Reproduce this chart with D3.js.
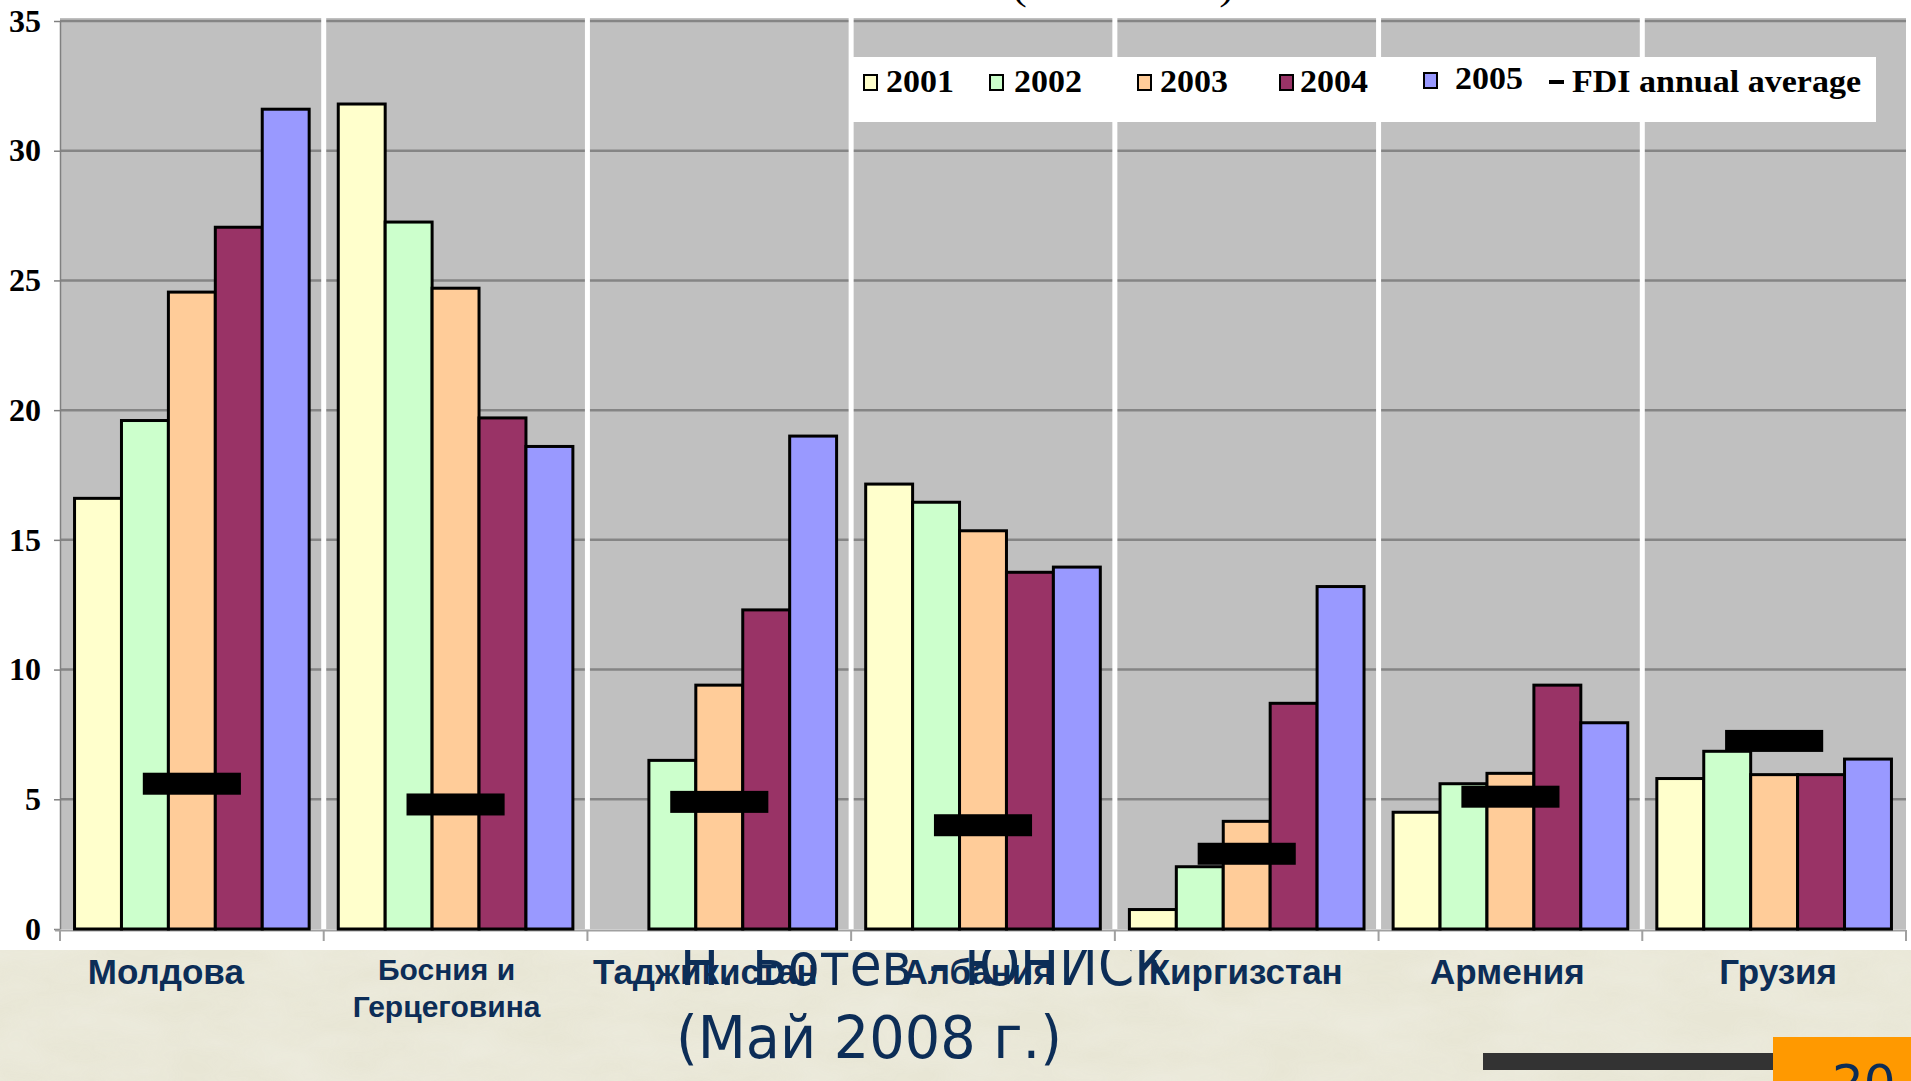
<!DOCTYPE html>
<html><head><meta charset="utf-8">
<script src="https://cdn.jsdelivr.net/npm/d3@7"></script>
<style>html,body{margin:0;padding:0;overflow:hidden;background:#ebe9d8}svg{display:block}</style>
</head><body>
<svg id="c" width="1911" height="1081"></svg>
<script>
// ---------- data ----------
const categories = ["Молдова", "Босния и Герцеговина", "Таджикистан", "Албания", "Киргизстан", "Армения", "Грузия"];
const categoryLabels = [["Молдова"], ["Босния и", "Герцеговина"], ["Таджикистан"], ["Албания"], ["Киргизстан"], ["Армения"], ["Грузия"]];
const years = ["2001", "2002", "2003", "2004", "2005"];
const v2001 = [16.6, 31.8, null, 17.15, 0.75, 4.5, 5.8];
const v2002 = [19.6, 27.25, 6.5, 16.45, 2.4, 5.6, 6.85];
const v2003 = [24.55, 24.7, 9.4, 15.35, 4.15, 6.0, 5.95];
const v2004 = [27.05, 19.7, 12.3, 13.75, 8.7, 9.4, 5.95];
const v2005 = [31.6, 18.6, 19.0, 13.95, 13.2, 7.95, 6.55];
const fdiAverage = [5.6, 4.8, 4.9, 4.0, 2.9, 5.1, 7.25];
const yTicks = [0, 5, 10, 15, 20, 25, 30, 35];
const fdiLabel = "FDI annual average";
const titleFragment = "(% от ВВП)";
const footerLines = ["Н. Ботев - ЮНИСК", "(Май 2008 г.)"];
const slideNumber = "20";

// ---------- styles / layout ----------
const yearColors = ["#FFFFCC", "#CCFFCC", "#FFCC99", "#993366", "#9999FF"];
const seriesValues = [v2001, v2002, v2003, v2004, v2005];
const navy = "#0c2d57";
const plotL = 60, plotR = 1906, plotB = 929, plotT = 21;
const labelShift = [-26, -9, -14, -5, -1, -3, 4];

const svg = d3.select("#c");

// subtle paper texture for the slide background
const defs = svg.append("defs");
const flt = defs.append("filter").attr("id", "paper").attr("x", 0).attr("y", 0).attr("width", "100%").attr("height", "100%");
flt.append("feTurbulence").attr("type", "fractalNoise").attr("baseFrequency", "0.012 0.03").attr("numOctaves", 3).attr("seed", 7).attr("result", "n");
flt.append("feColorMatrix").attr("in", "n").attr("type", "matrix")
  .attr("values", "0 0 0 0 0.96  0 0 0 0 0.96  0 0 0 0 0.93  0 0 0 0.45 -0.1");

// slide background
svg.append("rect").attr("width", 1911).attr("height", 1081).attr("fill", "#e8e6d5");
svg.append("rect").attr("width", 1911).attr("height", 1081).attr("filter", "url(#paper)").attr("opacity", 0.8);

// footer text (behind the chart picture)
const footerLayout = [{x: 680, y: 985, w: 491}, {x: 676, y: 1058, w: 386}];
svg.selectAll("text.footer").data(footerLines).join("text")
  .attr("class", "footer")
  .attr("x", (d, i) => footerLayout[i].x)
  .attr("y", (d, i) => footerLayout[i].y)
  .attr("textLength", (d, i) => footerLayout[i].w)
  .attr("lengthAdjust", "spacingAndGlyphs")
  .attr("font-family", "DejaVu Sans, sans-serif")
  .attr("font-size", 59)
  .attr("fill", navy)
  .text(d => d);

// bottom-right decoration
svg.append("rect").attr("x", 1483).attr("y", 1053).attr("width", 290).attr("height", 17).attr("fill", "#333333");
svg.append("rect").attr("x", 1773).attr("y", 1037).attr("width", 138).attr("height", 44).attr("fill", "#FF9900");
svg.append("text").attr("x", 1832).attr("y", 1100).attr("font-family", "DejaVu Sans, sans-serif")
  .attr("font-size", 50).attr("fill", navy).text(slideNumber);

// chart picture (white)
svg.append("rect").attr("x", 0).attr("y", 0).attr("width", 1911).attr("height", 950).attr("fill", "#ffffff");

// cut-off title fragment
svg.append("text").attr("x", 1012).attr("y", -1).attr("textLength", 222).attr("lengthAdjust", "spacingAndGlyphs")
  .attr("font-family", "Liberation Serif, serif").attr("font-size", 40).attr("fill", "#000").text(titleFragment);

// scales
const x0 = d3.scaleBand().domain(categories).range([plotL, plotR]).padding(0);
const x1 = d3.scaleBand().domain(years).range([0, x0.bandwidth()]).paddingInner(0).paddingOuter(0.31);
const y = d3.scaleLinear().domain([0, 35]).range([plotB, plotT]);

// plot area
svg.append("rect").attr("x", plotL).attr("y", plotT - 3).attr("width", plotR - plotL).attr("height", plotB - plotT + 3).attr("fill", "#C0C0C0");

// gridlines
svg.append("g").selectAll("line").data(yTicks.filter(t => t > 0)).join("line")
  .attr("x1", plotL).attr("x2", plotR).attr("y1", d => y(d)).attr("y2", d => y(d))
  .attr("stroke", "#858585").attr("stroke-width", 2.5);

// separators between countries
svg.append("g").selectAll("line").data(categories.slice(1)).join("line")
  .attr("x1", d => x0(d)).attr("x2", d => x0(d)).attr("y1", 13).attr("y2", plotB)
  .attr("stroke", "#ffffff").attr("stroke-width", 5);

// y axis
const yAxis = svg.append("g").attr("transform", `translate(${plotL},0)`)
  .call(d3.axisLeft(y).tickValues(yTicks).tickSizeInner(6).tickSizeOuter(0).tickPadding(13));
yAxis.select(".domain").attr("stroke", "#808080").attr("stroke-width", 1.5);
yAxis.selectAll(".tick line").attr("stroke", "#808080").attr("stroke-width", 1.5);
yAxis.selectAll(".tick text").attr("font-family", "Liberation Serif, serif").attr("font-weight", "bold")
  .attr("font-size", 32).attr("fill", "#000");

// x axis (boundaries)
const xAxisG = svg.append("g");
xAxisG.append("line").attr("x1", plotL - 5).attr("x2", plotR).attr("y1", plotB + 1.5).attr("y2", plotB + 1.5)
  .attr("stroke", "#a0a0a0").attr("stroke-width", 2);
xAxisG.selectAll("line.tk").data(categories.concat(["__end"])).join("line").attr("class", "tk")
  .attr("x1", d => d === "__end" ? plotR : x0(d)).attr("x2", d => d === "__end" ? plotR : x0(d))
  .attr("y1", plotB + 1).attr("y2", plotB + 12).attr("stroke", "#a0a0a0").attr("stroke-width", 2);

// bars
const barData = [];
categories.forEach((c, ci) => {
  years.forEach((yr, yi) => {
    const v = seriesValues[yi][ci];
    if (v !== null) barData.push({c, yr, yi, v});
  });
});
svg.append("g").selectAll("rect").data(barData).join("rect")
  .attr("x", d => x0(d.c) + x1(d.yr))
  .attr("width", x1.bandwidth())
  .attr("y", d => y(d.v))
  .attr("height", d => y(0) - y(d.v))
  .attr("fill", d => yearColors[d.yi])
  .attr("stroke", "#000").attr("stroke-width", 3);

// FDI annual average markers
const markW = x0.bandwidth() * 0.372, markH = 22;
svg.append("g").selectAll("rect").data(categories).join("rect")
  .attr("x", d => x0(d) + x0.bandwidth() / 2 - markW / 2)
  .attr("width", markW)
  .attr("y", (d, i) => y(fdiAverage[i]) - markH / 2)
  .attr("height", markH)
  .attr("fill", "#000");

// legend
const lg = svg.append("g");
lg.append("rect").attr("x", 849).attr("y", 57).attr("width", 1027).attr("height", 65).attr("fill", "#ffffff");
const legSq = [864, 990, 1138, 1280, 1424];
const legTx = [886, 1014, 1160, 1300, 1455];
lg.selectAll("rect.sw").data(years).join("rect").attr("class", "sw")
  .attr("x", (d, i) => legSq[i]).attr("y", (d, i) => i === 4 ? 73 : 75).attr("width", 13).attr("height", 15)
  .attr("fill", (d, i) => yearColors[i]).attr("stroke", "#000").attr("stroke-width", 2);
lg.selectAll("text.lt").data(years).join("text").attr("class", "lt")
  .attr("x", (d, i) => legTx[i]).attr("y", (d, i) => i === 4 ? 89 : 92)
  .attr("textLength", 68).attr("lengthAdjust", "spacingAndGlyphs")
  .attr("font-family", "Liberation Serif, serif").attr("font-weight", "bold").attr("font-size", 31)
  .attr("fill", "#000").text(d => d);
lg.append("rect").attr("x", 1549).attr("y", 80).attr("width", 15).attr("height", 4).attr("fill", "#000");
lg.append("text").attr("x", 1572).attr("y", 92).attr("textLength", 289).attr("lengthAdjust", "spacingAndGlyphs")
  .attr("font-family", "Liberation Serif, serif").attr("font-weight", "bold").attr("font-size", 31)
  .attr("fill", "#000").text(fdiLabel);

// country labels (slide text boxes)
const lab = svg.append("g");
categories.forEach((c, i) => {
  const lines = categoryLabels[i];
  const multi = lines.length > 1;
  const t = lab.append("text")
    .attr("x", x0(c) + x0.bandwidth() / 2 + labelShift[i])
    .attr("y", multi ? 980 : 984)
    .attr("text-anchor", "middle")
    .attr("font-family", "Liberation Sans, Arial, sans-serif").attr("font-weight", "bold")
    .attr("font-size", multi ? 30 : 35).attr("fill", navy);
  lines.forEach((ln, k) => {
    t.append("tspan").attr("x", x0(c) + x0.bandwidth() / 2 + labelShift[i]).attr("dy", k === 0 ? 0 : 37).text(ln);
  });
});
</script>
</body></html>
